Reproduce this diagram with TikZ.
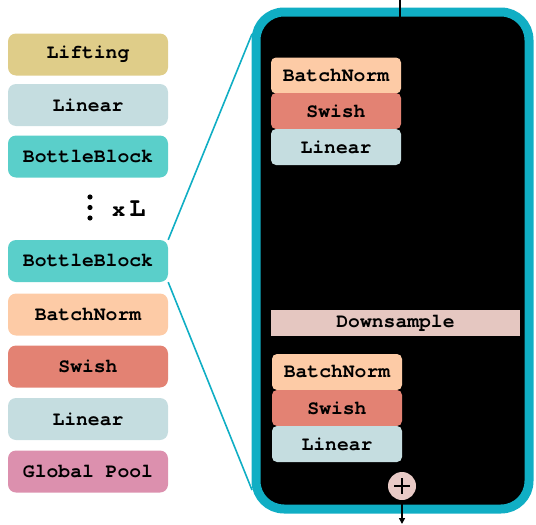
\documentclass[tikz,border=0pt]{standalone}
\usepackage{fontspec}
\setmonofont{TeX Gyre Cursor}
\usetikzlibrary{arrows.meta,calc}
\definecolor{cLift}{HTML}{DFCD89}
\definecolor{cLin}{HTML}{C5DDE0}
\definecolor{cBB}{HTML}{5ACFCA}
\definecolor{cBN}{HTML}{FDCBA6}
\definecolor{cSw}{HTML}{E38273}
\definecolor{cGP}{HTML}{DC90AE}
\definecolor{cTeal}{HTML}{10AEC4}
\definecolor{cDown}{HTML}{E5C7C1}
\definecolor{cPlus}{HTML}{E8CAC6}
\tikzset{
  lbl/.style={font=\ttfamily\bfseries\fontsize{19.7}{20}\selectfont, text=black, inner sep=0pt},
  leftbox/.style={lbl, rounded corners=8pt, minimum width=160pt, minimum height=42pt},
  inbox/.style={lbl, rounded corners=5pt, minimum width=130pt, minimum height=36pt},
}
\begin{document}
\begin{tikzpicture}[x=1pt,y=-1pt]
\useasboundingbox (0,0) rectangle (536,525);
% left column
\node[leftbox, fill=cLift] (lift) at (88,54.5) {Lifting};
\node[leftbox, fill=cLin] (lin1) at (88,105) {Linear};
\node[leftbox, fill=cBB] (bb1) at (88,156.5) {BottleBlock};
\node[leftbox, fill=cBB] (bb2) at (88,261) {BottleBlock};
\node[leftbox, fill=cBN] (bn1) at (88,314.5) {BatchNorm};
\node[leftbox, fill=cSw] (sw1) at (88,366.5) {Swish};
\node[leftbox, fill=cLin] (lin2) at (88,419) {Linear};
\node[leftbox, fill=cGP] (gp) at (88,471.5) {Global Pool};
% dots and xL
\fill (90,197) circle (2.6pt) (90,207.5) circle (2.6pt) (90,218) circle (2.6pt);
\node[lbl, font=\ttfamily\bfseries\fontsize{22}{22}\selectfont, anchor=base west] (xl) at (112,216) {x\kern4pt{\fontsize{27}{27}\selectfont L}};
% big block
\node[draw=cTeal, fill=black, line width=9pt, rounded corners=28pt, minimum width=273pt, minimum height=497pt, inner sep=0pt] (blk) at (392.5,260.5) {};
\coordinate (zt) at (252,34);
\coordinate (zb) at (252,490);
\draw[cTeal, line width=1.6pt] (bb2.north east) -- (zt);
\draw[cTeal, line width=1.6pt] (bb2.south east) -- (zb);
% top input line
\coordinate (tin) at (400,0);
\coordinate (tend) at (400,17);
\draw[black, line width=2pt] (tin) -- (tend);
% inner boxes
\node[inbox, fill=cBN] (ibn1) at (336,75.5) {BatchNorm};
\node[inbox, fill=cSw] (isw1) at (336,111) {Swish};
\node[inbox, fill=cLin] (ilin1) at (336,147) {Linear};
\node[lbl, fill=cDown, minimum width=249pt, minimum height=26pt] (down) at (395.5,323) {Downsample};
\node[inbox, fill=cBN] (ibn2) at (337,372) {BatchNorm};
\node[inbox, fill=cSw] (isw2) at (337,408) {Swish};
\node[inbox, fill=cLin] (ilin2) at (337,444) {Linear};
% plus
\node[circle, fill=cPlus, minimum size=28pt, inner sep=0pt] (plus) at (402,486) {};
\draw[black, line width=2.2pt] ($(plus.center)+(-8,0)$) -- ($(plus.center)+(8,0)$);
\draw[black, line width=2.2pt] ($(plus.center)+(0,-8)$) -- ($(plus.center)+(0,8)$);
\coordinate (out) at (402,524);
\draw[black, line width=1.6pt, -{Triangle[length=6pt,width=6pt]}] (plus.south) -- (out);
\end{tikzpicture}
\end{document}
